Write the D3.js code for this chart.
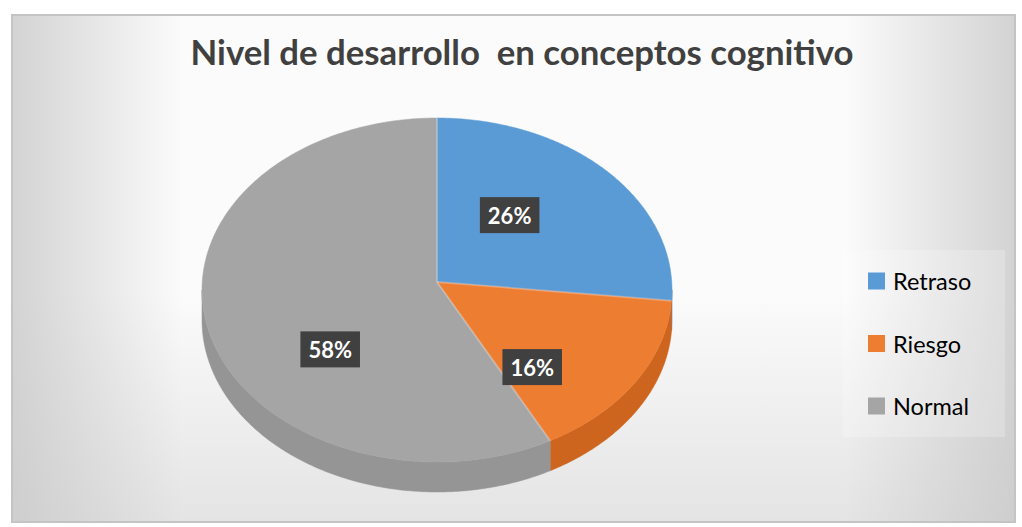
<!DOCTYPE html>
<html>
<head>
<meta charset="utf-8">
<script src="https://cdn.jsdelivr.net/npm/d3@7"></script>
<style>
  html, body { margin: 0; padding: 0; background: #ffffff; }
  svg { display: block; }
</style>
</head>
<body>
<svg id="chart" width="1022" height="527"></svg>
<script>
// ---- data ----
const categories = ["Retraso", "Riesgo", "Normal"];
const values = [26, 16, 58];
const labels = ["26%", "16%", "58%"];
const title = "Nivel de desarrollo  en conceptos cognitivo";

// ---- style ----
const topColors = ["#5b9bd5", "#ed7d31", "#a5a5a5"];
const sideColors = ["#3f7fba", "#cd651e", "#959595"];
const labelNudge = [[-13, -12], [-4, 35], [7, 42]];

const W = 1022, H = 527;
const svg = d3.select("#chart");
const defs = svg.append("defs");

// background gradients
const gh = defs.append("linearGradient").attr("id", "bgH").attr("x1", 0).attr("x2", 1).attr("y1", 0).attr("y2", 0);
gh.append("stop").attr("offset", 0).attr("stop-color", "#d3d3d3");
gh.append("stop").attr("offset", 0.17).attr("stop-color", "#fbfbfb");
gh.append("stop").attr("offset", 0.83).attr("stop-color", "#fbfbfb");
gh.append("stop").attr("offset", 1).attr("stop-color", "#d3d3d3");
const gv = defs.append("linearGradient").attr("id", "bgV").attr("x1", 0).attr("x2", 0).attr("y1", 0).attr("y2", 1);
gv.append("stop").attr("offset", 0.55).attr("stop-color", "#c8c8c8").attr("stop-opacity", 0);
gv.append("stop").attr("offset", 1).attr("stop-color", "#c8c8c8").attr("stop-opacity", 0.45);

const area = { x: 12, y: 15, w: 1003, h: 507 };
svg.append("rect").attr("x", area.x).attr("y", area.y).attr("width", area.w).attr("height", area.h)
  .attr("fill", "url(#bgH)");
svg.append("rect").attr("x", area.x).attr("y", area.y).attr("width", area.w).attr("height", area.h)
  .attr("fill", "url(#bgV)");
svg.append("rect").attr("x", area.x).attr("y", area.y).attr("width", area.w).attr("height", area.h)
  .attr("fill", "none").attr("stroke", "#c4c4c4").attr("stroke-width", 2);

// title
const t = svg.append("text")
  .attr("x", 522).attr("y", 65)
  .attr("text-anchor", "middle")
  .attr("font-family", "Lato, 'Open Sans', sans-serif")
  .attr("font-weight", "bold")
  .attr("font-size", 32)
  .attr("fill", "#404040")
  .style("white-space", "pre")
  .attr("xml:space", "preserve")
  .text(title);
const tw = t.node().getComputedTextLength();
t.attr("font-size", 32 * 663 / tw);

// ---- pie geometry ----
const cx = 437, cyE = 290, rx = 235, ry = 172, apexLift = 8, depth = 30;
const apex = [cx, cyE - apexLift];
const rim = (a, dy = 0) => [cx + rx * Math.sin(a), cyE - ry * Math.cos(a) + dy];

const pie = d3.pie().sort(null).value(d => d)(values);

function arcPoints(a0, a1, dy) {
  const n = Math.max(2, Math.ceil(Math.abs(a1 - a0) / 0.01));
  return d3.range(n + 1).map(i => rim(a0 + (a1 - a0) * i / n, dy));
}
const line = d3.line();

// side walls (front half only)
const gSide = svg.append("g");
pie.forEach((p, i) => {
  const s = Math.max(p.startAngle, Math.PI / 2);
  const e = Math.min(p.endAngle, 3 * Math.PI / 2);
  if (s < e) {
    const pts = arcPoints(s, e, 0).concat(arcPoints(e, s, depth));
    gSide.append("path").attr("d", line(pts) + "Z").attr("fill", sideColors[i])
      .attr("stroke", sideColors[i]).attr("stroke-width", 0.5);
  }
});

// top faces
const gTop = svg.append("g");
pie.forEach((p, i) => {
  const pts = [apex].concat(arcPoints(p.startAngle, p.endAngle, 0));
  gTop.append("path").attr("d", line(pts) + "Z").attr("fill", topColors[i])
    .attr("stroke", topColors[i]).attr("stroke-width", 0.5);
});
// light slice edges
pie.forEach((p) => {
  gTop.append("line")
    .attr("x1", apex[0]).attr("y1", apex[1])
    .attr("x2", rim(p.startAngle)[0]).attr("y2", rim(p.startAngle)[1])
    .attr("stroke", "#ffffff").attr("stroke-opacity", 0.25).attr("stroke-width", 2);
});

// data labels
const gLab = svg.append("g");
pie.forEach((p, i) => {
  const mid = (p.startAngle + p.endAngle) / 2;
  const r = rim(mid);
  const x = apex[0] + 0.5 * (r[0] - apex[0]) + labelNudge[i][0];
  const y = apex[1] + 0.5 * (r[1] - apex[1]) + labelNudge[i][1];
  const g = gLab.append("g");
  const rect = g.append("rect").attr("fill", "#404040");
  const txt = g.append("text").attr("x", x).attr("y", y)
    .attr("text-anchor", "middle").attr("dominant-baseline", "central")
    .attr("font-family", "Lato, 'Open Sans', sans-serif").attr("font-weight", "bold")
    .attr("font-size", 22).attr("fill", "#ffffff").text(labels[i]);
  const w = txt.node().getComputedTextLength();
  rect.attr("x", x - w / 2 - 8).attr("y", y - 18).attr("width", w + 16).attr("height", 36);
});

// legend
const lg = svg.append("g");
lg.append("rect").attr("x", 843).attr("y", 250).attr("width", 162).attr("height", 187)
  .attr("fill", "#ffffff").attr("fill-opacity", 0.22);
const ly = d3.scalePoint().domain(categories).range([281, 406]);
categories.forEach((c, i) => {
  lg.append("rect").attr("x", 868).attr("y", ly(c) - 8.5).attr("width", 17).attr("height", 17)
    .attr("fill", topColors[i]);
  lg.append("text").attr("x", 893).attr("y", ly(c)).attr("dominant-baseline", "central")
    .attr("font-family", "Lato, 'Open Sans', sans-serif").attr("font-size", 23.5)
    .attr("fill", "#000000").text(c);
});
</script>
</body>
</html>
